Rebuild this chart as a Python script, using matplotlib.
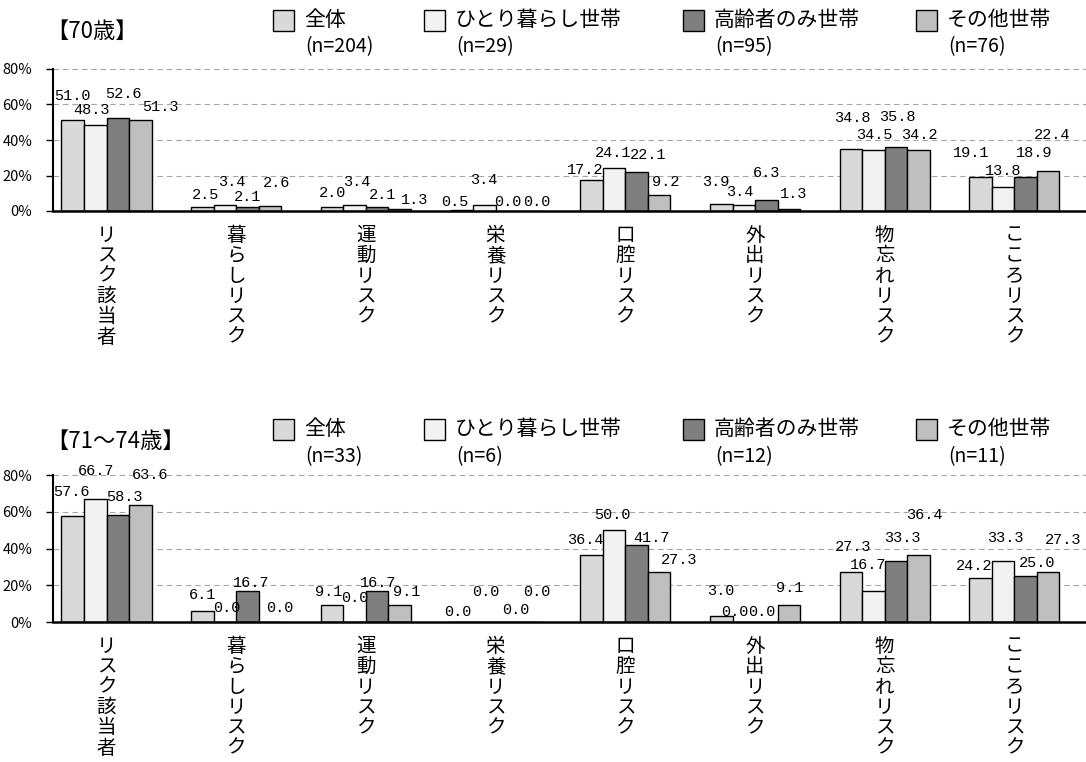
import numpy as np
import matplotlib
matplotlib.use("Agg")
import matplotlib.pyplot as plt
from matplotlib.patches import Rectangle

plt.rcParams['font.family'] = ['Noto Sans CJK JP', 'DejaVu Sans']

# データ
categories = ['リスク該当者', '暮らしリスク', '運動リスク', '栄養リスク',
              '口腔リスク', '外出リスク', '物忘れリスク', 'こころリスク']
series = ['全体', 'ひとり暮らし世帯', '高齢者のみ世帯', 'その他世帯']
n_70 = ['(n=204)', '(n=29)', '(n=95)', '(n=76)']
n_7174 = ['(n=33)', '(n=6)', '(n=12)', '(n=11)']

zentai_70 = [51.0, 2.5, 2.0, 0.5, 17.2, 3.9, 34.8, 19.1]
hitori_70 = [48.3, 3.4, 3.4, 3.4, 24.1, 3.4, 34.5, 13.8]
koreisha_70 = [52.6, 2.1, 2.1, 0.0, 22.1, 6.3, 35.8, 18.9]
sonota_70 = [51.3, 2.6, 1.3, 0.0, 9.2, 1.3, 34.2, 22.4]

zentai_7174 = [57.6, 6.1, 9.1, 0.0, 36.4, 3.0, 27.3, 24.2]
hitori_7174 = [66.7, 0.0, 0.0, 0.0, 50.0, 0.0, 16.7, 33.3]
koreisha_7174 = [58.3, 16.7, 16.7, 0.0, 41.7, 0.0, 33.3, 25.0]
sonota_7174 = [63.6, 0.0, 9.1, 0.0, 27.3, 9.1, 36.4, 27.3]

colors = ['#d9d9d9', '#f2f2f2', '#7f7f7f', '#bfbfbf']

# ラベルの位置調整 (px: 横ずれ, 棒の上端からの高さ)
lab_off_70 = [[(0, 24), (-4, 15), (6, 24), (20, 13)],
              [(3, 12), (7, 23), (0, 10), (7, 23)],
              [(0, 14), (2, 23), (5, 12), (15, 9)],
              [(-7, 8), (-1, 25), (1, 9), (7, 9)],
              [(-6, 10), (-1, 15), (12, 17), (7, 13)],
              [(-5, 22), (-4, 13), (0, 27), (5, 15)],
              [(1, 31), (1, 15), (1, 30), (1, 15)],
              [(-9, 24), (0, 16), (9, 24), (4, 36)]]
lab_off_7174 = [[(-1, 24), (1, 28), (7, 18), (10, 30)],
                [(0, 16), (2, 14), (4, 8), (10, 14)],
                [(-3, 13), (0, 24), (1, 8), (7, 13)],
                [(-4, 10), (1, 30), (9, 12), (7, 30)],
                [(-6, 15), (-2, 15), (15, 7), (20, 12)],
                [(0, 25), (-9, 10), (-4, 10), (1, 17)],
                [(2, 25), (-5, 26), (6, 23), (6, 40)],
                [(-7, 12), (2, 23), (11, 13), (15, 32)]]

W, H = 1086, 762
fig = plt.figure(figsize=(W / 100, H / 100), dpi=100)


def px(x, y):
    return x / W, 1 - y / H


def draw_panel(rect, data, offsets, title, ns, title_y, leg_y1, leg_y2):
    ax = fig.add_axes(rect)
    x = np.arange(len(categories))
    w = 0.1735
    for k, vals in enumerate(data):
        xs = x + (k - 1.5) * w
        ax.bar(xs, vals, width=w, color=colors[k], edgecolor='black',
               linewidth=1.0, zorder=3)
        for i, v in enumerate(vals):
            dx, dy = offsets[i][k]
            ax.annotate(f'{v:.1f}', xy=(xs[i], v),
                        xytext=(dx * 0.72, dy * 0.72), textcoords='offset points',
                        ha='center', va='center', fontsize=11,
                        family='Liberation Mono', zorder=4)
    ax.set_xlim(-0.4125, 7.552)
    ax.set_ylim(0, 80)
    ax.set_yticks([0, 20, 40, 60, 80])
    ax.set_yticklabels([f'{t}%' for t in [0, 20, 40, 60, 80]], fontsize=10.5)
    ax.set_xticks(x)
    ax.set_xticklabels(['\n'.join(c) for c in categories], fontsize=14,
                       linespacing=0.96)
    ax.tick_params(axis='x', length=0, pad=10)
    ax.tick_params(axis='y', length=5, width=1.0, pad=10)
    for yv in [20, 40, 60, 80]:
        ax.axhline(yv, color='#a6a6a6', linewidth=0.8, linestyle=(0, (5, 3.5)),
                   zorder=1, clip_on=False)
    for s in ['top', 'right']:
        ax.spines[s].set_visible(False)
    ax.spines['left'].set_linewidth(1.5)
    ax.spines['bottom'].set_linewidth(1.8)
    ax.spines['bottom'].set_zorder(5)

    fig.text(*px(46, title_y), title, fontsize=16, va='center', ha='left')
    sq_x = [273, 424, 683, 916]
    tx_x = [304, 455, 714, 947]
    for k in range(4):
        fx, fy = px(sq_x[k], leg_y1 + 11)
        fig.patches.append(Rectangle((fx, fy), 21 / W, 21 / H, facecolor=colors[k],
                                     edgecolor='black', linewidth=1.0,
                                     transform=fig.transFigure, figure=fig))
        fig.text(*px(tx_x[k], leg_y1), series[k], fontsize=15, va='center', ha='left')
        fig.text(*px(tx_x[k] + 1, leg_y2), ns[k], fontsize=14, va='center', ha='left')
    return ax


ax1 = draw_panel([53 / W, 1 - 211 / H, 1 - 53 / W, 142 / H],
                 [zentai_70, hitori_70, koreisha_70, sonota_70], lab_off_70,
                 '【70歳】', n_70, 31, 20, 47)
ax2 = draw_panel([53 / W, 1 - 622 / H, 1 - 53 / W, 147 / H],
                 [zentai_7174, hitori_7174, koreisha_7174, sonota_7174], lab_off_7174,
                 '【71～74歳】', n_7174, 441, 429, 457)

fig.savefig('out.png', dpi=100)
